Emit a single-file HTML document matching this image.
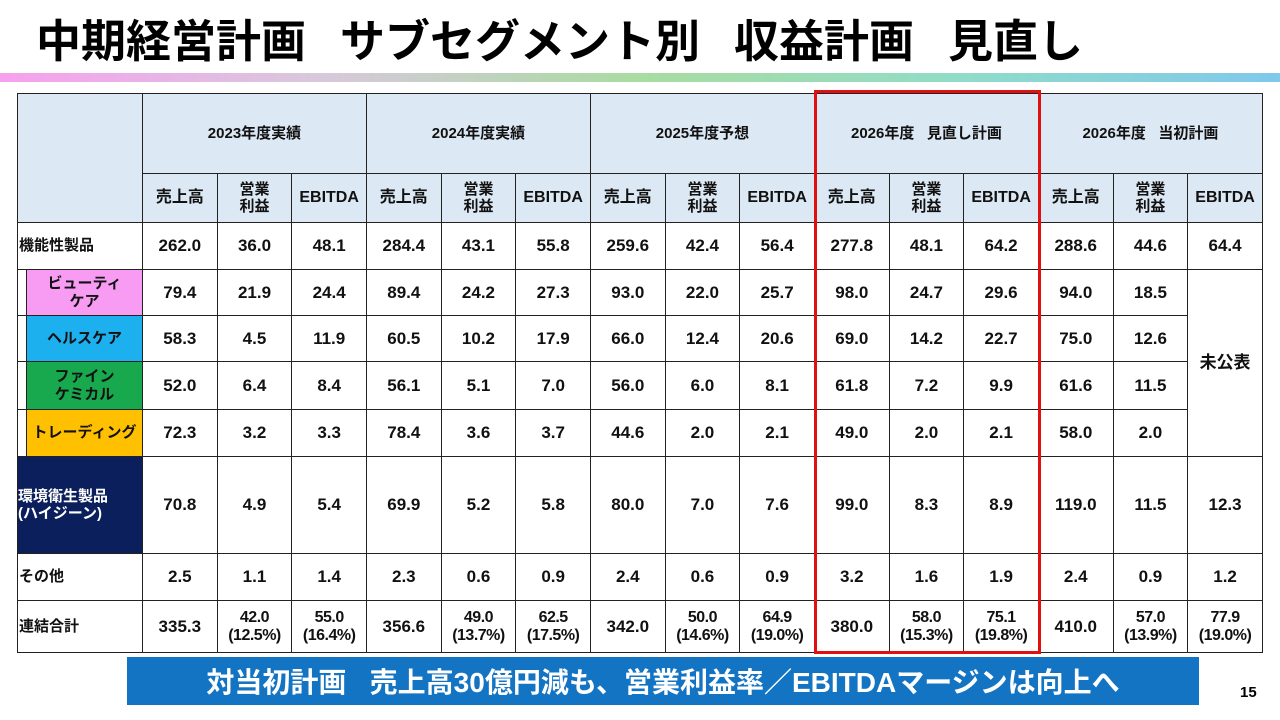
<!DOCTYPE html>
<html><head><meta charset="utf-8">
<style>
body{margin:0;width:1280px;height:720px;background:#fff;position:relative;overflow:hidden;font-family:"Liberation Sans","Noto Sans CJK JP",sans-serif;}
#title{position:absolute;left:36px;top:12px;font-size:45px;font-weight:bold;color:#000;white-space:nowrap;line-height:60px;}
#title span.g{display:inline-block;width:34px;}
#grad{position:absolute;left:0;top:73px;width:1280px;height:9px;background:linear-gradient(90deg,#f7a0ee 0%,#d8c8dc 25%,#a8dca0 50%,#90dcc8 75%,#80c8ec 100%);}
table{position:absolute;left:17px;top:93px;border-collapse:collapse;table-layout:fixed;width:1245px;}
td{border:1px solid #222;text-align:center;font-weight:bold;font-size:17px;color:#111;padding:0;line-height:1.15;overflow:hidden;}
td.h{background:#dce8f4;font-size:15px;white-space:pre;}
td.lab{text-align:left;font-size:15px;padding-left:1px;}
td.sub{position:relative;border-left:1px solid #222;}
td.sub div{position:absolute;left:8px;right:0;top:0;bottom:0;border-left:1px solid #222;display:flex;align-items:center;justify-content:center;font-size:15px;text-align:center;line-height:1.2;}
td.hy{background:#0b1f5c;color:#fff;text-align:left;font-size:15px;}
td.pct{font-size:16px;line-height:1.1;letter-spacing:-0.5px;}
#red{position:absolute;left:814px;top:90px;width:221px;height:558px;border:3px solid #e01010;}
#banner{position:absolute;left:127px;top:657px;width:1072px;height:48px;background:#1474c4;color:#fff;font-size:28px;font-weight:bold;display:flex;align-items:center;justify-content:center;white-space:pre;}
#pg{position:absolute;left:1240px;top:684px;font-size:15px;font-weight:bold;}
</style></head><body>
<div id="title">中期経営計画<span class="g"></span>サブセグメント別<span class="g"></span>収益計画<span class="g"></span>見直し</div>
<div id="grad"></div>
<table>
<colgroup><col style="width:125px"><col span="15" style="width:74.67px"></colgroup>
<tr style="height:80px">
<td class="h" rowspan="2"></td>
<td class="h" colspan="3">2023年度実績</td>
<td class="h" colspan="3">2024年度実績</td>
<td class="h" colspan="3">2025年度予想</td>
<td class="h" colspan="3">2026年度   見直し計画</td>
<td class="h" colspan="3">2026年度   当初計画</td>
</tr>
<tr style="height:49px">
<td class="h" style="font-size:16px">売上高</td><td class="h">営業<br>利益</td><td class="h" style="font-size:16px">EBITDA</td>
<td class="h" style="font-size:16px">売上高</td><td class="h">営業<br>利益</td><td class="h" style="font-size:16px">EBITDA</td>
<td class="h" style="font-size:16px">売上高</td><td class="h">営業<br>利益</td><td class="h" style="font-size:16px">EBITDA</td>
<td class="h" style="font-size:16px">売上高</td><td class="h">営業<br>利益</td><td class="h" style="font-size:16px">EBITDA</td>
<td class="h" style="font-size:16px">売上高</td><td class="h">営業<br>利益</td><td class="h" style="font-size:16px">EBITDA</td>
</tr>
<tr style="height:47px">
<td class="lab">機能性製品</td><td>262.0</td><td>36.0</td><td>48.1</td><td>284.4</td><td>43.1</td><td>55.8</td><td>259.6</td><td>42.4</td><td>56.4</td><td>277.8</td><td>48.1</td><td>64.2</td><td>288.6</td><td>44.6</td><td>64.4</td>
</tr>
<tr style="height:46px">
<td class="sub"><div style="background:#f79cf2">ビューティ<br>ケア</div></td><td>79.4</td><td>21.9</td><td>24.4</td><td>89.4</td><td>24.2</td><td>27.3</td><td>93.0</td><td>22.0</td><td>25.7</td><td>98.0</td><td>24.7</td><td>29.6</td><td>94.0</td><td>18.5</td>
<td rowspan="4">未公表</td>
</tr>
<tr style="height:46px">
<td class="sub"><div style="background:#1cb0ef">ヘルスケア</div></td><td>58.3</td><td>4.5</td><td>11.9</td><td>60.5</td><td>10.2</td><td>17.9</td><td>66.0</td><td>12.4</td><td>20.6</td><td>69.0</td><td>14.2</td><td>22.7</td><td>75.0</td><td>12.6</td>
</tr>
<tr style="height:48px">
<td class="sub"><div style="background:#18a84e">ファイン<br>ケミカル</div></td><td>52.0</td><td>6.4</td><td>8.4</td><td>56.1</td><td>5.1</td><td>7.0</td><td>56.0</td><td>6.0</td><td>8.1</td><td>61.8</td><td>7.2</td><td>9.9</td><td>61.6</td><td>11.5</td>
</tr>
<tr style="height:47px">
<td class="sub"><div style="background:#ffc000;font-size:15px;white-space:nowrap">トレーディング</div></td><td>72.3</td><td>3.2</td><td>3.3</td><td>78.4</td><td>3.6</td><td>3.7</td><td>44.6</td><td>2.0</td><td>2.1</td><td>49.0</td><td>2.0</td><td>2.1</td><td>58.0</td><td>2.0</td>
</tr>
<tr style="height:97px">
<td class="hy">環境衛生製品<br>(ハイジーン)</td><td>70.8</td><td>4.9</td><td>5.4</td><td>69.9</td><td>5.2</td><td>5.8</td><td>80.0</td><td>7.0</td><td>7.6</td><td>99.0</td><td>8.3</td><td>8.9</td><td>119.0</td><td>11.5</td><td>12.3</td>
</tr>
<tr style="height:47px">
<td class="lab">その他</td><td>2.5</td><td>1.1</td><td>1.4</td><td>2.3</td><td>0.6</td><td>0.9</td><td>2.4</td><td>0.6</td><td>0.9</td><td>3.2</td><td>1.6</td><td>1.9</td><td>2.4</td><td>0.9</td><td>1.2</td>
</tr>
<tr style="height:52px">
<td class="lab">連結合計</td><td>335.3</td><td class="pct">42.0<br>(12.5%)</td><td class="pct">55.0<br>(16.4%)</td><td>356.6</td><td class="pct">49.0<br>(13.7%)</td><td class="pct">62.5<br>(17.5%)</td><td>342.0</td><td class="pct">50.0<br>(14.6%)</td><td class="pct">64.9<br>(19.0%)</td><td>380.0</td><td class="pct">58.0<br>(15.3%)</td><td class="pct">75.1<br>(19.8%)</td><td>410.0</td><td class="pct">57.0<br>(13.9%)</td><td class="pct">77.9<br>(19.0%)</td>
</tr>
</table>
<div id="red"></div>
<div id="banner">対当初計画   売上高30億円減も、営業利益率／EBITDAマージンは向上へ</div>
<div id="pg">15</div>
</body></html>
